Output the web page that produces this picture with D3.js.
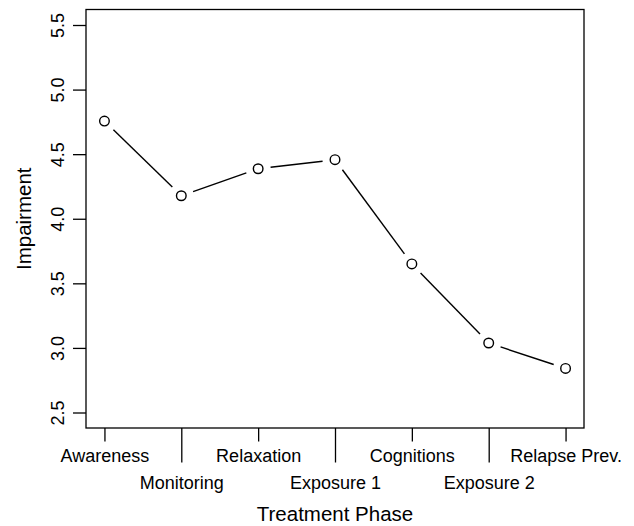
<!DOCTYPE html>
<html>
<head>
<meta charset="utf-8">
<script src="https://cdn.jsdelivr.net/npm/d3@7"></script>
<style>
  html, body { margin: 0; padding: 0; background: #fff; }
  svg { display: block; }
  text { font-family: "Liberation Sans", Arial, Helvetica, sans-serif; fill: #000; }
</style>
</head>
<body>
<svg id="chart" width="634" height="526"></svg>
<script>
const phases = ["Awareness", "Monitoring", "Relaxation", "Exposure 1", "Cognitions", "Exposure 2", "Relapse Prev."];
const impairment = [4.756, 4.178, 4.387, 4.457, 3.650, 3.038, 2.841];
const yTicks = [2.5, 3.0, 3.5, 4.0, 4.5, 5.0, 5.5];
const xTitle = "Treatment Phase";
const yTitle = "Impairment";

const svg = d3.select("#chart");
const L = 86, R = 584, T = 9.5, B = 428;
const x = d3.scaleLinear().domain([0.76, 7.24]).range([L, R]);
const y = d3.scaleLinear().domain([2.38, 5.62]).range([B, T]);
const idx = phases.map((d, i) => i + 1);

// frame
svg.append("rect").attr("x", L).attr("y", T).attr("width", R - L).attr("height", B - T)
  .attr("fill", "none").attr("stroke", "#000").attr("stroke-width", 1.3);

// y axis
const yAxis = svg.append("g").attr("transform", `translate(${L},0)`)
  .call(d3.axisLeft(y).tickValues(yTicks).tickFormat(d3.format(".1f")).tickSize(13).tickSizeOuter(0));
yAxis.select(".domain").remove();
yAxis.selectAll(".tick line").attr("stroke", "#000").attr("stroke-width", 1.3);
yAxis.selectAll(".tick text")
  .attr("x", null).attr("dy", null).attr("y", null)
  .attr("transform", "translate(-22,0) rotate(-90)")
  .attr("text-anchor", "middle")
  .style("font-size", "18px")
  .style("font-family", "'Liberation Sans', Arial, sans-serif");

// x axis: two staggered rows
function xRow(sel, lengths, labelY) {
  const ax = svg.append("g").attr("transform", `translate(0,${B})`)
    .call(d3.axisBottom(x).tickValues(sel).tickFormat(i => phases[i - 1]).tickSize(lengths).tickSizeOuter(0));
  ax.select(".domain").remove();
  ax.selectAll(".tick line").attr("stroke", "#000").attr("stroke-width", 1.3);
  ax.selectAll(".tick text").attr("dy", null).attr("y", labelY)
    .style("font-size", "18px")
    .style("font-family", "'Liberation Sans', Arial, sans-serif");
}
xRow(idx.filter(i => i % 2 === 1), 13.5, 34);
xRow(idx.filter(i => i % 2 === 0), 34.5, 61);

// titles
svg.append("text").attr("x", (L + R) / 2).attr("y", 521).attr("text-anchor", "middle")
  .style("font-size", "20.5px").text(xTitle);
svg.append("text").attr("transform", `translate(30.5,${(T + B) / 2}) rotate(-90)`)
  .attr("text-anchor", "middle").style("font-size", "20.5px").text(yTitle);

// line segments with gaps (type = "b")
const pts = impairment.map((v, i) => [x(i + 1), y(v)]);
const gap = 12.5;
const segs = [];
for (let i = 0; i < pts.length - 1; i++) {
  const [x1, y1] = pts[i], [x2, y2] = pts[i + 1];
  const dx = x2 - x1, dy = y2 - y1, len = Math.hypot(dx, dy);
  const ux = dx / len, uy = dy / len;
  segs.push([x1 + ux * gap, y1 + uy * gap, x2 - ux * gap, y2 - uy * gap]);
}
svg.append("g").selectAll("line").data(segs).join("line")
  .attr("x1", d => d[0]).attr("y1", d => d[1]).attr("x2", d => d[2]).attr("y2", d => d[3])
  .attr("stroke", "#000").attr("stroke-width", 1.4);

svg.append("g").selectAll("circle").data(impairment).join("circle")
  .attr("cx", (d, i) => x(i + 1)).attr("cy", d => y(d)).attr("r", 4.8)
  .attr("fill", "#fff").attr("stroke", "#000").attr("stroke-width", 1.4);
</script>
</body>
</html>
